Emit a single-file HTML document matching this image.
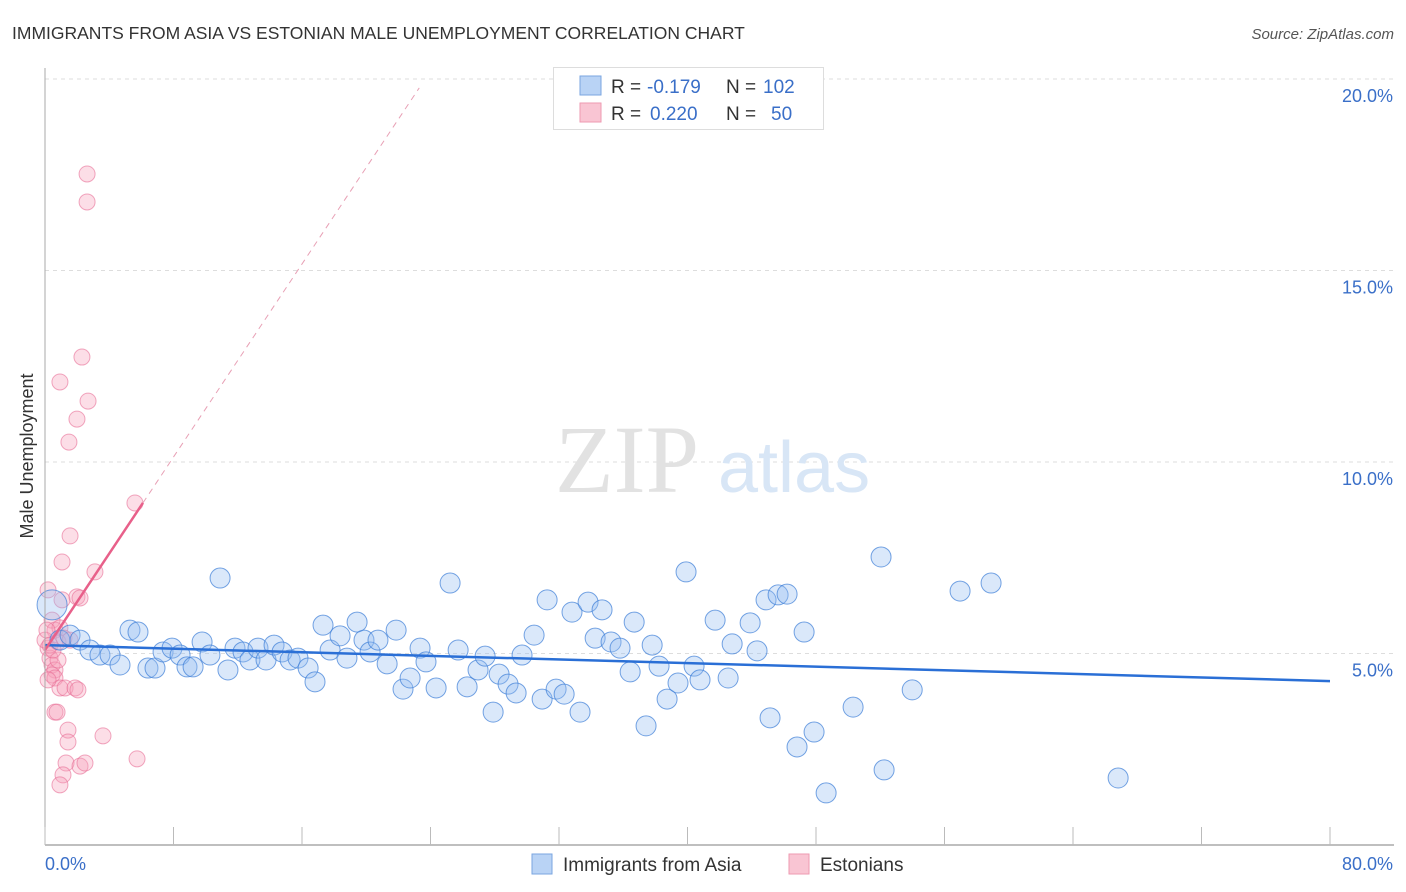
<!DOCTYPE html>
<html><head><meta charset="utf-8"><style>
body{margin:0;background:#fff;font-family:"Liberation Sans",sans-serif;}
</style></head><body>
<svg id="chart" width="1406" height="892" xmlns="http://www.w3.org/2000/svg" style="display:block">
<text x="12" y="39" font-size="17.5" fill="#333" font-family="Liberation Sans, sans-serif">IMMIGRANTS FROM ASIA VS ESTONIAN MALE UNEMPLOYMENT CORRELATION CHART</text>
<text x="1394" y="39" font-size="15" fill="#555" text-anchor="end" font-style="italic">Source: ZipAtlas.com</text>
<text transform="translate(33,456) rotate(-90)" font-size="18" fill="#333" text-anchor="middle">Male Unemployment</text>
<g id="grid"></g>
<g><text x="555" y="492" font-size="96" fill="#e2e2e2" font-family="Liberation Serif, serif">ZIP</text><text x="718" y="492" font-size="72" fill="#d8e6f6">atlas</text></g>
<g id="marks"></g>
<g id="axes"></g>
<g>
<rect x="553.5" y="67.5" width="270" height="62" fill="#fff" stroke="#ddd"/>
<rect x="580" y="76" width="21" height="19" fill="#b9d3f5" stroke="#7aa6e0"/>
<rect x="580" y="103" width="21" height="19" fill="#f9c5d3" stroke="#ee9ab2"/>
<text x="611" y="93" font-size="19" fill="#333">R = </text><text x="647" y="93" font-size="19" fill="#3a6fc8">-0.179</text>
<text x="726" y="93" font-size="19" fill="#333">N = </text><text x="763" y="93" font-size="19" fill="#3a6fc8">102</text>
<text x="611" y="120" font-size="19" fill="#333">R = </text><text x="650" y="120" font-size="19" fill="#3a6fc8">0.220</text>
<text x="726" y="120" font-size="19" fill="#333">N = </text><text x="771" y="120" font-size="19" fill="#3a6fc8">50</text>
</g>
<g>
<rect x="532" y="854" width="20" height="20" fill="#b9d3f5" stroke="#7aa6e0"/>
<text x="563" y="871" font-size="19" fill="#333">Immigrants from Asia</text>
<rect x="789" y="854" width="20" height="20" fill="#f9c5d3" stroke="#ee9ab2"/>
<text x="820" y="871" font-size="19" fill="#333">Estonians</text>
</g>
</svg>
<script>
const blueX=[0.44,0.93,1.56,2.18,2.80,3.42,4.05,4.67,5.29,5.79,6.41,6.85,7.35,7.91,8.41,8.84,9.22,9.78,10.27,10.90,11.39,11.83,12.33,12.76,13.26,13.76,14.26,14.76,15.26,15.75,16.38,16.81,17.31,17.75,18.37,18.80,19.43,19.86,20.24,20.73,21.30,21.86,22.29,22.73,23.35,23.72,24.35,25.22,25.72,26.28,26.96,27.40,27.90,28.27,28.83,29.33,29.70,30.45,30.95,31.26,31.82,32.32,32.81,33.31,33.81,34.25,34.68,35.24,35.80,36.43,36.68,37.42,37.80,38.23,38.73,39.41,39.91,40.41,40.78,41.72,42.53,42.78,43.90,44.33,44.89,45.14,45.64,46.20,46.82,47.26,47.88,48.63,50.31,52.05,52.24,53.99,56.97,58.90,66.81];
const blueY=[6.27,5.35,5.48,5.35,5.09,4.96,4.96,4.70,5.61,5.56,4.62,4.62,5.04,5.14,4.96,4.65,4.65,5.30,4.96,6.97,4.57,5.14,5.04,4.83,5.14,4.83,5.22,5.04,4.83,4.88,4.62,4.26,5.74,5.09,5.46,4.88,5.82,5.35,5.04,5.35,4.73,5.61,4.07,4.36,5.14,4.78,4.10,6.84,5.09,4.13,4.57,4.93,3.47,4.46,4.20,3.97,4.96,5.48,3.81,6.40,4.07,3.94,6.08,3.47,6.34,5.40,6.14,5.30,5.14,4.52,5.82,3.11,5.22,4.67,3.81,4.23,7.13,4.67,4.31,5.87,4.36,5.25,5.80,5.07,6.40,3.32,6.53,6.55,2.56,5.56,2.95,1.36,3.60,7.52,1.96,4.05,6.63,6.84,1.75];
const pinkX=[0.19,0.44,0.62,0.93,1.06,0.19,0.31,0.44,0.62,0.81,0.44,0.62,0.93,1.25,1.87,2.05,1.06,1.56,0.93,1.49,1.99,2.68,2.30,2.62,2.62,5.60,3.11,1.99,2.18,0.62,0.75,1.43,1.43,3.61,5.73,1.31,2.18,2.49,1.12,0.93,0,0.12,0.31,0.50,0.81,1.18,1.56,0.19];
const pinkY=[6.66,5.87,5.61,5.67,6.40,5.14,4.88,4.70,4.57,4.83,4.44,4.36,4.10,4.10,4.10,4.05,7.39,8.07,12.09,10.52,11.12,11.59,12.74,16.79,17.52,8.93,7.13,6.48,6.45,3.47,3.47,3.00,2.69,2.85,2.25,2.14,2.06,2.14,1.83,1.57,5.35,5.61,5.22,5.09,5.30,5.40,5.35,4.31];
const yTicks=[5,10,15,20];
const yTickLabels=["5.0%","10.0%","15.0%","20.0%"];
const blueTrend=[5.22,4.28]; // y at x=0 and x=80
const pinkTrend=[5.09,0.63]; // intercept, slope
const NS="http://www.w3.org/2000/svg";
const X=v=>45+v*1285/80, Y=v=>845-v*38.3;
function mk(t,a,p){const e=document.createElementNS(NS,t);for(const k in a)e.setAttribute(k,a[k]);p.appendChild(e);return e;}
const grid=document.getElementById('grid'),marks=document.getElementById('marks'),axes=document.getElementById('axes');
yTicks.forEach((t,i)=>{
 const l=mk('line',{x1:45,x2:1394,y1:Y(t),y2:Y(t),stroke:'#ddd','stroke-dasharray':'4,4'},grid);
 
 
 const tx=mk('text',{x:1393,y:Y(t)+23,'font-size':18,fill:'#3a6fc8','text-anchor':'end'},axes);
 tx.textContent=yTickLabels[i];
 
 
});
mk('line',{x1:45,x2:45,y1:68,y2:845,stroke:'#aaa'},axes);
mk('line',{x1:45,x2:1394,y1:845,y2:845,stroke:'#aaa','stroke-width':1.5},axes);
for(let k=0;k<=10;k++){mk('line',{x1:X(k*8),x2:X(k*8),y1:827,y2:845,stroke:'#bbb'},axes);}
let t0=mk('text',{x:45,y:870,'font-size':18,fill:'#3a6fc8'},axes);t0.textContent='0.0%';


let t1=mk('text',{x:1393,y:870,'font-size':18,fill:'#3a6fc8','text-anchor':'end'},axes);t1.textContent='80.0%';


pinkX.forEach((x,i)=>{const c=mk('circle',{cx:X(x),cy:Y(pinkY[i]),r:8,fill:'rgba(246,160,185,0.35)',stroke:'rgba(232,110,150,0.6)'},marks);
 
 });
blueX.forEach((x,i)=>{const c=mk('circle',{cx:X(x),cy:Y(blueY[i]),r:i==0?15:10,fill:'rgba(150,190,240,0.35)',stroke:'rgba(60,125,215,0.7)'},marks);
 
 });
const bl=mk('line',{x1:X(0),y1:Y(blueTrend[0]),x2:X(80),y2:Y(blueTrend[1]),stroke:'#2a6fd6','stroke-width':2.5},marks);


const pe=6.1, pd=23.3;
const ps=mk('line',{x1:X(0),y1:Y(pinkTrend[0]),x2:X(pe),y2:Y(pinkTrend[0]+pinkTrend[1]*pe),stroke:'#e8608a','stroke-width':2.5},marks);


const pdl=mk('line',{x1:X(pe),y1:Y(pinkTrend[0]+pinkTrend[1]*pe),x2:X(pd),y2:Y(pinkTrend[0]+pinkTrend[1]*pd),stroke:'#e8a0b5','stroke-width':1,'stroke-dasharray':'6,5'},marks);


</script>
</body></html>
